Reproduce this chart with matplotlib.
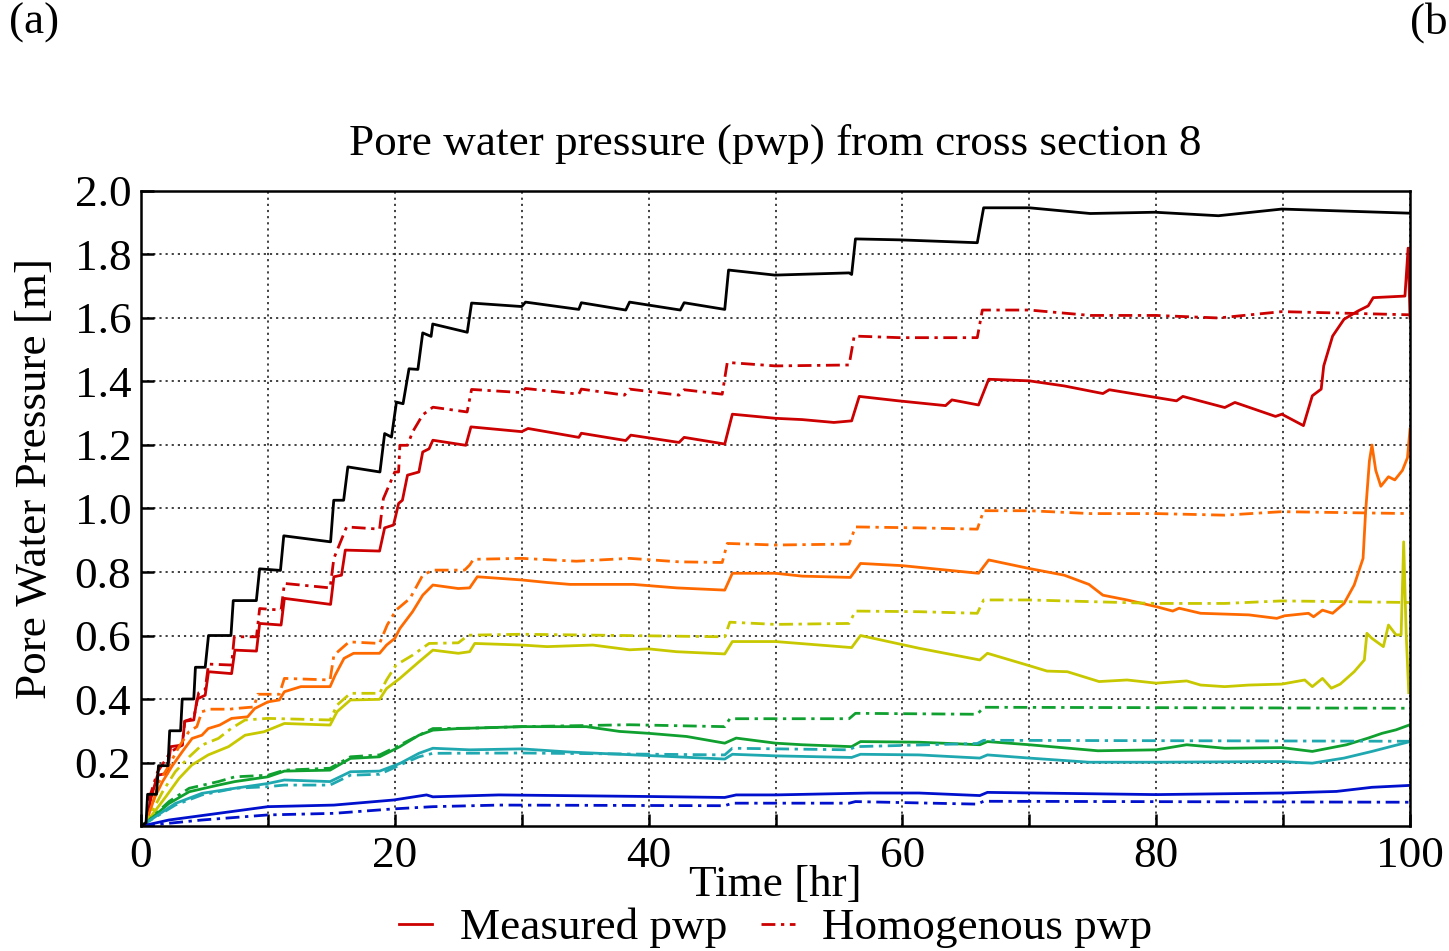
import matplotlib
matplotlib.use("Agg")
import matplotlib.pyplot as plt
from matplotlib.lines import Line2D
from matplotlib.ticker import MultipleLocator, FixedLocator

plt.rcParams['font.family'] = ['Liberation Serif', 'DejaVu Serif']

# (time [hr], pwp [m]) pairs for each sensor, measured and homogenous model
black_meas = [(0, 0), (0.4, 0.01), (0.52, 0.10), (1.22, 0.10), (1.38, 0.19), (2.13, 0.19),
              (2.26, 0.30), (3.12, 0.30), (3.25, 0.40), (4.16, 0.40), (4.29, 0.50), (5.06, 0.50),
              (5.32, 0.60), (7.09, 0.60), (7.27, 0.71), (9.09, 0.71), (9.35, 0.81), (10.99, 0.805),
              (11.25, 0.914), (14.94, 0.895), (15.19, 1.026), (15.97, 1.026), (16.3, 1.131),
              (18.83, 1.115), (19.2, 1.236), (19.74, 1.225), (20.13, 1.335), (20.65, 1.33),
              (21.12, 1.44), (21.82, 1.438), (22.2, 1.553), (22.86, 1.542), (22.99, 1.581),
              (25.71, 1.555), (26.05, 1.647), (30.0, 1.636), (30.3, 1.65), (34.5, 1.627),
              (34.7, 1.648), (38.2, 1.625), (38.5, 1.65), (42.5, 1.625), (42.8, 1.648),
              (46.0, 1.627), (46.3, 1.751), (49.95, 1.735), (55.8, 1.742), (56.0, 1.737),
              (56.3, 1.849), (59.8, 1.846), (65.9, 1.837), (66.4, 1.947), (70.0, 1.947),
              (74.8, 1.929), (79.9, 1.933), (84.9, 1.922), (89.9, 1.943), (100, 1.93)]

red_meas = [(0, 0), (0.4, 0.008), (0.78, 0.087), (1.3, 0.16), (2.08, 0.166), (2.34, 0.25),
            (3.25, 0.255), (3.45, 0.33), (4.16, 0.334), (4.42, 0.40), (5.06, 0.412), (5.32, 0.486),
            (7.14, 0.48), (7.4, 0.554), (9.1, 0.551), (9.35, 0.638), (11.04, 0.633), (11.3, 0.717),
            (14.94, 0.698), (15.2, 0.785), (15.8, 0.79), (16.1, 0.869), (18.8, 0.866), (19.2, 0.939),
            (19.9, 0.948), (20.3, 1.016), (20.6, 1.026), (21.0, 1.105), (21.9, 1.115), (22.2, 1.178),
            (22.7, 1.188), (23.0, 1.215), (25.6, 1.199), (26.0, 1.257), (30.0, 1.242), (30.5, 1.252),
            (34.5, 1.224), (34.7, 1.237), (38.2, 1.214), (38.6, 1.231), (42.4, 1.208), (42.8, 1.224),
            (46.0, 1.203), (46.6, 1.297), (50.0, 1.284), (52.1, 1.28), (54.6, 1.271), (56.0, 1.276),
            (56.6, 1.353), (59.7, 1.339), (63.4, 1.324), (63.9, 1.342), (66.0, 1.326), (66.8, 1.407),
            (70.0, 1.402), (72.75, 1.386), (75.8, 1.362), (76.3, 1.374), (81.6, 1.339), (82.1, 1.353),
            (85.4, 1.318), (86.2, 1.334), (89.4, 1.29), (89.9, 1.297), (91.6, 1.261), (92.3, 1.355),
            (93.0, 1.376), (93.2, 1.449), (93.9, 1.543), (94.8, 1.596), (95.9, 1.622), (96.7, 1.638),
            (97.1, 1.664), (99.6, 1.669), (99.85, 1.82), (100, 1.60)]

red_homo = [(0, 0), (0.4, 0.01), (0.65, 0.087), (1.3, 0.17), (2.34, 0.234), (3.25, 0.255),
            (3.45, 0.33), (4.16, 0.34), (4.55, 0.42), (5.06, 0.43), (5.32, 0.51), (7.14, 0.507),
            (7.35, 0.596), (9.1, 0.596), (9.35, 0.685), (11.04, 0.68), (11.3, 0.764), (14.9, 0.75),
            (15.2, 0.843), (16.2, 0.942), (18.8, 0.935), (19.1, 1.031), (20.0, 1.115), (20.3, 1.115),
            (20.4, 1.199), (21.0, 1.199), (21.4, 1.241), (22.2, 1.295), (23.0, 1.319), (25.7, 1.304),
            (26.05, 1.375), (30.0, 1.365), (30.3, 1.378), (34.5, 1.36), (34.7, 1.376), (38.1, 1.357),
            (38.5, 1.376), (42.4, 1.357), (42.8, 1.374), (45.8, 1.36), (46.2, 1.46), (50.0, 1.449),
            (55.8, 1.452), (56.2, 1.543), (59.8, 1.538), (65.9, 1.538), (66.3, 1.625), (70.0, 1.625),
            (74.8, 1.608), (80.0, 1.608), (84.9, 1.60), (89.9, 1.62), (100, 1.61)]

orange_meas = [(0, 0), (0.4, 0.01), (1.04, 0.087), (1.7, 0.14), (2.47, 0.19), (3.25, 0.234),
               (4.03, 0.276), (4.8, 0.286), (5.3, 0.307), (6.2, 0.318), (7.14, 0.339), (8.4, 0.344),
               (8.96, 0.37), (10.0, 0.391), (10.9, 0.397), (11.3, 0.423), (12.6, 0.439), (14.9, 0.439),
               (15.3, 0.475), (16.0, 0.528), (16.75, 0.544), (18.8, 0.544), (19.35, 0.57), (20.0, 0.591),
               (20.4, 0.622), (21.4, 0.675), (22.2, 0.727), (23.0, 0.759), (25.0, 0.748), (25.9, 0.75),
               (26.5, 0.785), (30.0, 0.775), (32.0, 0.767), (33.8, 0.761), (38.8, 0.761), (42.2, 0.75),
               (46.0, 0.743), (46.6, 0.796), (50.0, 0.796), (52.1, 0.787), (55.9, 0.783), (56.7, 0.827),
               (60.0, 0.82), (66.0, 0.796), (66.8, 0.838), (70.0, 0.811), (72.75, 0.79), (74.7, 0.761),
               (75.8, 0.727), (77.7, 0.712), (80.0, 0.691), (81.3, 0.677), (81.8, 0.686), (83.5, 0.67),
               (87.3, 0.665), (89.5, 0.654), (90.1, 0.662), (92.0, 0.67), (92.4, 0.659), (93.1, 0.68),
               (93.9, 0.67), (94.8, 0.701), (95.6, 0.759), (96.3, 0.843), (96.5, 0.99), (96.8, 1.15),
               (97.0, 1.20), (97.3, 1.12), (97.7, 1.07), (98.3, 1.10), (98.8, 1.09), (99.4, 1.12),
               (99.8, 1.16), (100, 1.25)]

orange_homo = [(0, 0), (0.4, 0.01), (0.9, 0.066), (1.43, 0.14), (2.2, 0.19), (3.0, 0.25),
               (3.77, 0.297), (4.4, 0.313), (4.8, 0.36), (5.45, 0.368), (7.0, 0.368), (7.4, 0.37),
               (8.9, 0.375), (9.2, 0.415), (10.9, 0.415), (11.3, 0.465), (14.9, 0.46), (15.2, 0.538),
               (16.4, 0.58), (18.8, 0.575), (19.4, 0.633), (20.1, 0.68), (21.2, 0.717), (22.2, 0.79),
               (23.0, 0.806), (25.5, 0.806), (25.9, 0.822), (26.2, 0.84), (30.0, 0.843), (34.3, 0.834),
               (38.5, 0.843), (42.4, 0.832), (45.8, 0.83), (46.2, 0.89), (50.0, 0.885), (55.8, 0.888),
               (56.3, 0.942), (61.3, 0.939), (65.9, 0.935), (66.4, 0.993), (70.0, 0.993), (74.8, 0.984),
               (80.0, 0.984), (85.4, 0.979), (89.9, 0.99), (100, 0.984)]

yellow_meas = [(0, 0), (0.4, 0.01), (1.95, 0.092), (3.0, 0.15), (4.0, 0.192), (5.3, 0.224),
               (6.9, 0.25), (8.2, 0.286), (9.7, 0.297), (11.3, 0.323), (14.9, 0.318), (15.45, 0.36),
               (16.5, 0.397), (18.8, 0.399), (19.35, 0.433), (20.4, 0.465), (21.9, 0.517), (23.0, 0.554),
               (25.0, 0.544), (25.9, 0.549), (26.3, 0.575), (30.0, 0.57), (32.0, 0.565), (35.6, 0.57),
               (38.5, 0.555), (40.0, 0.558), (42.2, 0.549), (46.0, 0.542), (46.6, 0.581), (50.0, 0.581),
               (56.0, 0.562), (56.7, 0.60), (59.8, 0.573), (61.3, 0.56), (66.1, 0.523), (66.7, 0.544),
               (70.0, 0.505), (71.4, 0.488), (73.0, 0.486), (75.5, 0.455), (77.7, 0.46), (80.0, 0.45),
               (82.4, 0.457), (83.5, 0.444), (85.4, 0.439), (87.3, 0.444), (89.9, 0.447), (91.7, 0.46),
               (92.3, 0.439), (93.1, 0.465), (93.8, 0.434), (94.5, 0.447), (95.6, 0.486), (96.4, 0.523),
               (96.6, 0.607), (97.0, 0.591), (97.9, 0.565), (98.3, 0.633), (98.9, 0.602), (99.3, 0.602),
               (99.5, 0.895), (99.7, 0.602), (99.9, 0.42)]

yellow_homo = [(0, 0), (0.4, 0.01), (1.7, 0.108), (2.7, 0.171), (3.8, 0.218), (4.8, 0.255),
               (6.1, 0.276), (7.1, 0.307), (8.2, 0.334), (10.0, 0.339), (14.9, 0.334), (15.45, 0.381),
               (16.5, 0.418), (18.8, 0.418), (19.35, 0.46), (20.1, 0.507), (21.4, 0.538), (22.7, 0.575),
               (25.0, 0.577), (25.8, 0.601), (30.0, 0.604), (46.0, 0.596), (46.4, 0.642), (50.0, 0.635),
               (55.8, 0.638), (56.3, 0.677), (61.3, 0.675), (65.9, 0.67), (66.4, 0.712), (70.0, 0.712),
               (80.0, 0.701), (85.4, 0.701), (89.9, 0.709), (100, 0.704)]

green_meas = [(0, 0), (0.4, 0.01), (2.2, 0.071), (3.8, 0.108), (6.1, 0.129), (7.4, 0.14),
              (10.0, 0.155), (11.3, 0.173), (14.9, 0.176), (16.5, 0.213), (18.8, 0.218), (20.4, 0.25),
              (21.9, 0.286), (23.0, 0.302), (25.0, 0.307), (30.0, 0.313), (35.1, 0.313), (37.7, 0.298),
              (40.0, 0.292), (43.0, 0.282), (46.0, 0.261), (46.9, 0.277), (50.0, 0.261), (52.1, 0.256),
              (56.0, 0.25), (56.7, 0.266), (61.3, 0.264), (66.1, 0.256), (66.7, 0.266), (70.0, 0.256),
              (75.4, 0.237), (80.0, 0.24), (82.4, 0.256), (85.4, 0.245), (89.9, 0.247), (92.3, 0.235),
              (95.0, 0.256), (96.7, 0.277), (97.8, 0.292), (98.9, 0.303), (100, 0.319)]

green_homo = [(0, 0), (0.4, 0.01), (2.2, 0.077), (3.8, 0.119), (6.1, 0.14), (7.4, 0.155),
              (10.0, 0.16), (11.3, 0.176), (14.9, 0.182), (16.5, 0.218), (18.8, 0.224), (20.4, 0.255),
              (21.9, 0.286), (23.0, 0.307), (25.9, 0.308), (30.0, 0.313), (38.5, 0.319), (46.0, 0.313),
              (46.4, 0.338), (55.8, 0.338), (56.3, 0.355), (65.9, 0.352), (66.4, 0.374), (100, 0.371)]

teal_meas = [(0, 0), (0.4, 0.01), (2.7, 0.071), (4.8, 0.103), (7.4, 0.119), (10.0, 0.134),
             (11.3, 0.145), (14.9, 0.14), (16.5, 0.171), (18.8, 0.173), (20.4, 0.197), (21.9, 0.229),
             (23.0, 0.245), (25.9, 0.24), (30.0, 0.243), (33.8, 0.233), (40.0, 0.222), (46.0, 0.211),
             (46.6, 0.226), (50.0, 0.221), (56.0, 0.216), (56.7, 0.226), (61.3, 0.224), (66.1, 0.214),
             (66.7, 0.224), (70.0, 0.214), (74.7, 0.201), (80.0, 0.201), (89.9, 0.203), (92.3, 0.198),
             (94.8, 0.214), (97.0, 0.235), (100, 0.266)]

teal_homo = [(0, 0), (0.4, 0.01), (2.7, 0.066), (4.8, 0.098), (7.4, 0.119), (10.0, 0.124),
             (11.3, 0.129), (14.9, 0.129), (16.5, 0.16), (18.8, 0.163), (20.4, 0.192), (21.9, 0.218),
             (23.0, 0.229), (30.0, 0.23), (46.0, 0.224), (46.6, 0.245), (55.8, 0.24), (56.3, 0.25),
             (65.9, 0.26), (66.4, 0.27), (100, 0.267)]

blue_meas = [(0, 0), (0.4, 0.003), (2.2, 0.019), (6.1, 0.04), (10.0, 0.061), (15.2, 0.066),
             (19.9, 0.082), (22.5, 0.098), (23.0, 0.092), (28.2, 0.098), (40.0, 0.093), (46.0, 0.09),
             (46.9, 0.098), (50.0, 0.098), (57.4, 0.104), (61.3, 0.104), (66.1, 0.096), (66.7, 0.106),
             (80.0, 0.099), (90.0, 0.104), (94.2, 0.109), (97.0, 0.122), (100, 0.128)]

blue_homo = [(0, 0), (4.8, 0.019), (10.0, 0.035), (15.2, 0.04), (19.9, 0.054), (23.0, 0.061),
             (28.2, 0.066), (46.0, 0.064), (46.6, 0.072), (55.8, 0.072), (56.3, 0.077), (65.9, 0.069),
             (66.4, 0.078), (100, 0.075)]

sensors = [
    ('#cc0000', red_meas, red_homo),
    ('#ff6a00', orange_meas, orange_homo),
    ('#c8c800', yellow_meas, yellow_homo),
    ('#10a030', green_meas, green_homo),
    ('#20a8b0', teal_meas, teal_homo),
    ('#0010cc', blue_meas, blue_homo),
]

ytick_labels = ['0.2', '0.4', '0.6', '0.8', '1.0', '1.2', '1.4', '1.6', '1.8', '2.0']

dashdot = (0, (5, 2, 1.2, 2))
fs = 32.5

fig = plt.figure(figsize=(14.49, 9.51), dpi=100)
ax = fig.add_axes([0.0973, 0.1314, 0.8758, 0.6678])

for color, meas, homo in sensors:
    ax.plot([p[0] for p in homo], [p[1] for p in homo], color=color, lw=2.0, ls=dashdot)
    ax.plot([p[0] for p in meas], [p[1] for p in meas], color=color, lw=2.0)
ax.plot([p[0] for p in black_meas], [p[1] for p in black_meas], color='black', lw=2.0)

ax.set_xlim(0, 100)
ax.set_ylim(0, 2.0)
ax.xaxis.set_major_locator(MultipleLocator(20))
ax.xaxis.set_minor_locator(MultipleLocator(10))
ax.yaxis.set_major_locator(FixedLocator([float(s) for s in ytick_labels]))
ax.set_yticklabels(ytick_labels)

ax.grid(True, which='both', axis='x', color='#333333', ls=(0, (1.2, 2.2)), lw=1.3)
ax.grid(True, which='major', axis='y', color='#333333', ls=(0, (1.2, 2.2)), lw=1.3)
ax.tick_params(axis='both', which='both', direction='in', length=9, width=1.8,
               labelsize=fs, pad=7, top=False, right=False)
for s in ax.spines.values():
    s.set_linewidth(1.8)

fig.text(0.535, 0.849, 'Pore water pressure (pwp) from cross section 8', ha='center', va='center',
         fontsize=fs)
fig.text(0.535, 0.069, 'Time [hr]', ha='center', va='center', fontsize=fs)
fig.text(0.024, 0.497, 'Pore Water Pressure [m]', ha='center', va='center', rotation=90, fontsize=fs)
fig.text(0.006, 0.976, '(a)', ha='left', va='center', fontsize=fs)
fig.text(0.973, 0.976, '(b', ha='left', va='center', fontsize=fs)

handles = [Line2D([], [], color='#cc0000', lw=2.0),
           Line2D([], [], color='#cc0000', lw=2.0, ls=dashdot)]
fig.legend(handles, ['Measured pwp', 'Homogenous pwp'], loc='center', bbox_to_anchor=(0.535, 0.024),
           ncol=2, frameon=False, fontsize=fs, handlelength=0.75, handletextpad=0.6, columnspacing=0.75,
           borderpad=0)

fig.savefig('out.png', dpi=100)
